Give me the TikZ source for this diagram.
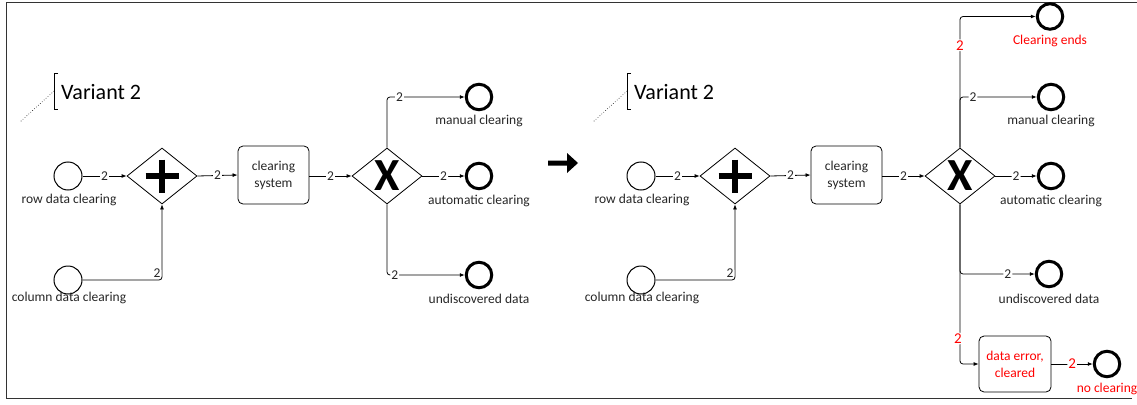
\documentclass[tikz,border=0pt]{standalone}
\usepackage{fontspec}
\setmainfont{Carlito}
\usetikzlibrary{shapes.geometric,arrows.meta}
\begin{document}
\begin{tikzpicture}[x=1pt,y=-1pt,
  lab/.style={font=\fontsize{13.5}{16}\selectfont, text=black!85, inner sep=0pt},
  redlab/.style={lab, text=red},
  num/.style={font=\fontsize{13.5}{13.5}\selectfont, text=black!85, fill=white, inner sep=1pt},
  rednum/.style={num, font=\fontsize{15}{15}\selectfont, text=red},
  startev/.style={circle, draw, line width=1pt, minimum size=28pt, inner sep=0pt},
  endev/.style={circle, draw, line width=3pt, minimum size=25.5pt, inner sep=0pt},
  gate/.style={diamond, draw, line width=0.8pt, minimum width=70pt, minimum height=56pt, inner sep=0pt},
  task/.style={rectangle, rounded corners=5pt, draw, line width=0.8pt, minimum width=71pt, minimum height=58pt, align=center, font=\fontsize{13.5}{17}\selectfont, text=black!85, inner sep=0pt},
  flow/.style={draw, line width=0.8pt, rounded corners=3pt, -{Latex[length=5pt,width=4pt]}},
  plussign/.style={line width=6.5pt},
  xsign/.style={font=\fontsize{46}{46}\selectfont\bfseries, inner sep=0pt},
  variant/.style={anchor=west, font=\fontsize{22}{22}\selectfont, inner sep=0pt},
  bracket/.style={line width=0.8pt},
  frame/.style={line width=1pt, black!80},
]
\useasboundingbox (0,0) rectangle (1137,404);
\draw[frame] (1137,2.5) -- (6.5,2.5) -- (6.5,398) -- (1132,398);

% ---------------- left variant ----------------
\draw[bracket] (58,73) -- (54,73) -- (54,109) -- (58,109);
\coordinate (b1) at (54,91);
\coordinate (d1) at (20,122);
\draw[dotted, line width=0.6pt] (b1) -- (d1);
\node[variant] (v1) at (61,92) {Variant 2};

\node[startev] (s1) at (68,176) {};
\node[lab] (s1l) at (69,200) {row data clearing};
\node[startev] (s2) at (68,280) {};
\node[lab] (s2l) at (69,298) {column data clearing};
\node[gate] (g1) at (162,176) {};
\draw[plussign] ([xshift=-16.5pt]g1.center) -- ([xshift=16.5pt]g1.center);
\draw[plussign] ([yshift=16.5pt]g1.center) -- ([yshift=-16.5pt]g1.center);
\node[task] (t1) at (273.5,175) {clearing\\system};
\node[gate] (g2) at (387,176) {};
\node[xsign] (x1) at (g2.center) {X};
\node[endev] (e1) at (479,97) {};
\node[lab] (e1l) at (479,121) {manual clearing};
\node[endev] (e2) at (479,176) {};
\node[lab] (e2l) at (479,201) {automatic clearing};
\node[endev] (e3) at (479,275) {};
\node[lab] (e3l) at (479,299) {undiscovered data};

\draw[flow] (s1.east) -- node[num]{2} (g1.west);
\draw[flow] (s2.east) -| node[num,pos=0.5,xshift=-5pt,yshift=7pt]{2} (g1.south);
\draw[flow] (g1.east) -- node[num]{2} (t1.west);
\draw[flow] (t1.east |- g2.west) -- node[num]{2} (g2.west);
\draw[flow] (g2.north) |- node[num,pos=0.58]{2} (e1.west);
\draw[flow] (g2.east) -- node[num]{2} (e2.west);
\draw[flow] (g2.south) |- node[num,pos=0.55]{2} (e3.west);

% ---------------- big arrow ----------------
\fill (548,160.5) -- (567,160.5) -- (567,153) -- (578,163) -- (567,173) -- (567,165.5) -- (548,165.5) -- cycle;

% ---------------- right variant ----------------
\draw[bracket] (631,73) -- (627,73) -- (627,109) -- (631,109);
\coordinate (b2) at (627,91);
\coordinate (d2) at (593,122);
\draw[dotted, line width=0.6pt] (b2) -- (d2);
\node[variant] (v2) at (634,92) {Variant 2};

\node[startev] (rs1) at (641,176) {};
\node[lab] (rs1l) at (642,200) {row data clearing};
\node[startev] (rs2) at (641,280) {};
\node[lab] (rs2l) at (642,298) {column data clearing};
\node[gate] (rg1) at (735,176) {};
\draw[plussign] ([xshift=-16.5pt]rg1.center) -- ([xshift=16.5pt]rg1.center);
\draw[plussign] ([yshift=16.5pt]rg1.center) -- ([yshift=-16.5pt]rg1.center);
\node[task] (rt1) at (846.5,175) {clearing\\system};
\node[gate] (rg2) at (960,176) {};
\node[xsign] (x2) at (rg2.center) {X};
\node[endev] (ce) at (1050,16.5) {};
\node[redlab] (cel) at (1050,41) {Clearing ends};
\node[endev] (re1) at (1051,97) {};
\node[lab] (re1l) at (1051,121) {manual clearing};
\node[endev] (re2) at (1051,176) {};
\node[lab] (re2l) at (1051,201) {automatic clearing};
\node[endev] (re3) at (1049,274) {};
\node[lab] (re3l) at (1049,299) {undiscovered data};
\node[task, minimum width=72pt, minimum height=56pt, text=red] (err) at (1015,364) {data error,\\cleared};
\node[endev] (nc) at (1107,364) {};
\node[redlab] (ncl) at (1107,389) {no clearing};

\draw[flow] (rs1.east) -- node[num]{2} (rg1.west);
\draw[flow] (rs2.east) -| node[num,pos=0.5,xshift=-5pt,yshift=7pt]{2} (rg1.south);
\draw[flow] (rg1.east) -- node[num]{2} (rt1.west);
\draw[flow] (rt1.east |- rg2.west) -- node[num]{2} (rg2.west);
\draw[flow] (rg2.north) |- node[rednum,pos=0.39]{2} (ce.west);
\draw[flow] (rg2.north) |- node[num,pos=0.585]{2} (re1.west);
\draw[flow] (rg2.east) -- node[num]{2} (re2.west);
\draw[flow] (rg2.south) |- node[num,pos=0.82]{2} (re3.west);
\draw[flow] (rg2.south) |- node[rednum,pos=0.42,xshift=-2pt]{2} (err.west);
\draw[flow] (err.east) -- node[rednum]{2} (nc.west);
\end{tikzpicture}
\end{document}
